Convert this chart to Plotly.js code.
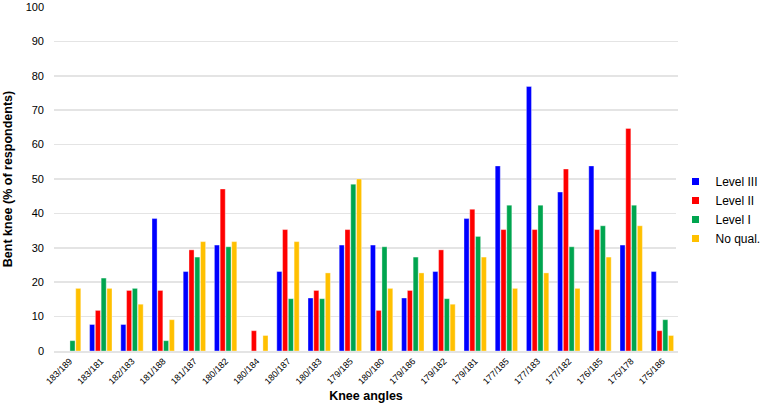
<!DOCTYPE html>
<html>
<head>
<meta charset="utf-8">
<script src="https://cdn.plot.ly/plotly-3.0.1.min.js"></script>
<style>
  html, body { margin: 0; padding: 0; background: #fff; }
  #chart { width: 765px; height: 405px; }
</style>
</head>
<body>
<div id="chart"></div>
<script>
  // Knee angle pairs along the x-axis.
  const angles = [
    "183/189", "183/181", "182/183", "181/188", "181/187", "180/182", "180/184",
    "180/187", "180/183", "179/185", "180/180", "179/186", "179/182", "179/181",
    "177/185", "177/183", "177/182", "176/185", "175/178", "175/186"
  ];

  // % of respondents with bent knee, per qualification level.
  const levelIII = [0, 7.7, 7.7, 38.5, 23.1, 30.8, 0, 23.1, 15.4, 30.8,
                    30.8, 15.4, 23.1, 38.5, 53.8, 76.9, 46.2, 53.8, 30.8, 23.1];
  const levelII = [0, 11.8, 17.6, 17.6, 29.4, 47.1, 5.9, 35.3, 17.6, 35.3,
                   11.8, 17.6, 29.4, 41.2, 35.3, 35.3, 52.9, 35.3, 64.7, 5.9];
  const levelI = [3.0, 21.2, 18.2, 3.0, 27.3, 30.3, 0, 15.2, 15.2, 48.5,
                  30.3, 27.3, 15.2, 33.3, 42.4, 42.4, 30.3, 36.4, 42.4, 9.1];
  const noQual = [18.2, 18.2, 13.6, 9.1, 31.8, 31.8, 4.5, 31.8, 22.7, 50.0,
                  18.2, 22.7, 13.6, 27.3, 18.2, 22.7, 18.2, 27.3, 36.4, 4.5];

  const yTicks = [0, 10, 20, 30, 40, 50, 60, 70, 80, 90, 100];

  const FONT = "Liberation Sans, Arial, sans-serif";
  const GRID = "#e4e4e4";

  function bars(name, values, color) {
    return {
      type: "bar",
      name: name,
      x: angles,
      y: values,
      showlegend: false,
      marker: { color: color, line: { color: "rgba(255,255,255,0.6)", width: 0.6 } },
      hoverinfo: "x+y+name"
    };
  }

  // Small square swatches for the legend (the bar swatch is too big).
  function swatch(name, color) {
    return {
      type: "scatter",
      mode: "markers",
      name: name,
      x: [null],
      y: [null],
      marker: { symbol: "square", size: 7, color: color },
      hoverinfo: "skip"
    };
  }

  const series = [
    ["Level III", levelIII, "#0000ff"],
    ["Level II", levelII, "#ff0000"],
    ["Level I", levelI, "#00a54f"],
    ["No qual.", noQual, "#ffc000"]
  ];

  const data = series.map((s) => bars(s[0], s[1], s[2]))
    .concat(series.map((s) => swatch(s[0], s[2])));

  const layout = {
    width: 765,
    height: 405,
    paper_bgcolor: "#fff",
    plot_bgcolor: "#fff",
    font: { family: FONT, color: "#000", size: 11 },
    margin: { l: 54, r: 87, t: 7, b: 54, autoexpand: false },
    barmode: "group",
    bargap: 0.26,
    bargroupgap: 0.12,
    xaxis: {
      type: "category",
      tickangle: -45,
      tickfont: { size: 9, family: FONT },
      showgrid: false,
      showline: true,
      linecolor: GRID,
      linewidth: 1.5,
      ticks: "",
      title: { text: "Knee angles", font: { size: 12.5, family: FONT, weight: "bold" }, standoff: 6 }
    },
    yaxis: {
      range: [0, 100],
      tickvals: yTicks,
      tickfont: { size: 11, family: FONT },
      ticklabelstandoff: 9,
      gridcolor: GRID,
      gridwidth: 1.5,
      zeroline: false,
      ticks: "",
      ticklen: 0,
      title: { text: "Bent knee (% of respondents)", font: { size: 12.5, family: FONT, weight: "bold" }, standoff: 10 }
    },
    legend: {
      x: -0.004,
      y: 0.41,
      yanchor: "middle",
      xanchor: "left",
      font: { size: 12, family: FONT },
      itemwidth: 30,
      tracegroupgap: 0
    },
    showlegend: true
  };
  // Legend sits just right of the plot area.
  layout.legend.x = 1 + layout.legend.x;

  Plotly.newPlot("chart", data, layout, { displayModeBar: false, staticPlot: true });
</script>
</body>
</html>
